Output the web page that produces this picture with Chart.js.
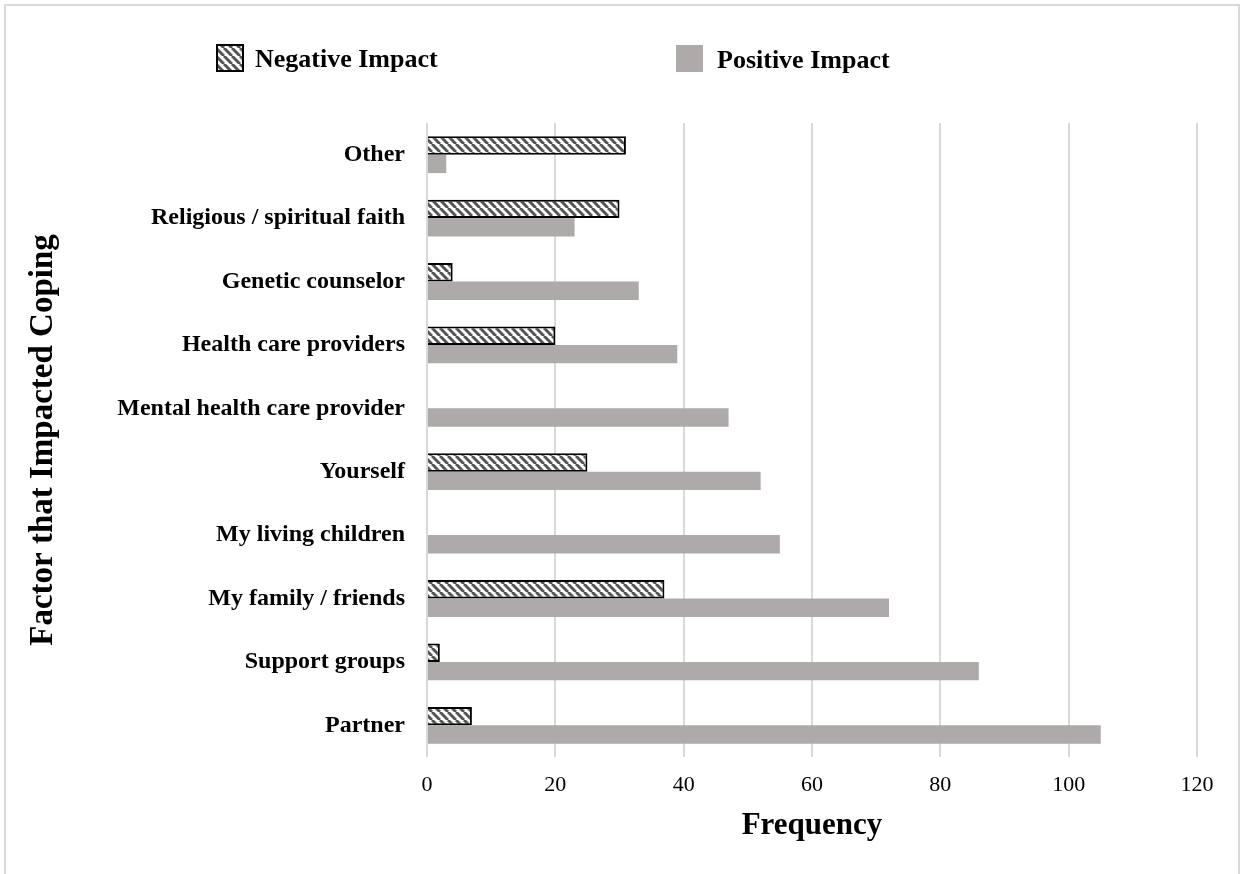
<!DOCTYPE html>
<html>
<head>
<meta charset="utf-8">
<script src="https://cdn.jsdelivr.net/npm/chart.js@4.4.1/dist/chart.umd.min.js"></script>
<style>
  html, body { margin: 0; padding: 0; background: #fff; }
  #wrap { position: relative; width: 1243px; height: 874px; overflow: hidden; }
  #frame { position: absolute; left: 4px; top: 4px; width: 1236px; height: 900px;
           border: 2px solid #d9d9d9; box-sizing: border-box; }
  #myChart { position: absolute; left: 0; top: 0; }
</style>
</head>
<body>
<div id="wrap">
  <div id="frame"></div>
  <canvas id="myChart" width="1243" height="874"></canvas>
</div>
<script>
const categories = ['Other', 'Religious / spiritual faith', 'Genetic counselor', 'Health care providers',
  'Mental health care provider', 'Yourself', 'My living children', 'My family / friends',
  'Support groups', 'Partner'];
const negativeValues = [31, 30, 4, 20, 0, 25, 0, 37, 2, 7];
const positiveValues = [3, 23, 33, 39, 47, 52, 55, 72, 86, 105];
const seriesNames = ['Negative Impact', 'Positive Impact'];
const xTicks = [0, 20, 40, 60, 80, 100, 120];

const serif = "'Liberation Serif', 'Times New Roman', serif";

// diagonal hatch like excel's wide downward diagonal
var makeHatch = function(){
  var c = document.createElement('canvas');
  c.width = 8; c.height = 8;
  var g = c.getContext('2d');
  g.fillStyle = '#fff';
  g.fillRect(0, 0, 8, 8);
  g.strokeStyle = '#555';
  g.lineWidth = 3;
  [-8, 0, 8].forEach(off => {
    g.beginPath();
    g.moveTo(off, 0);
    g.lineTo(off + 8, 8);
    g.stroke();
  });
  return g.createPattern(c, 'repeat');
};

var ctx = document.getElementById('myChart').getContext('2d');
var hatch = makeHatch();

var legendPlugin = {
  id: 'customLegend',
  afterDraw: function(chart){
    var c = chart.ctx;
    var ds = chart.data.datasets;
    c.save();
    // negative
    c.fillStyle = ds[0].backgroundColor;
    c.fillRect(216, 44, 28, 28);
    c.strokeStyle = '#000';
    c.lineWidth = 2;
    c.strokeRect(217, 45, 26, 26);
    // positive
    c.fillStyle = ds[1].backgroundColor;
    c.fillRect(676, 45, 27, 27);
    c.fillStyle = '#000';
    c.font = "bold 26px " + serif;
    c.textBaseline = 'alphabetic';
    c.textAlign = 'left';
    c.fillText(ds[0].label, 255, 67);
    c.fillText(ds[1].label, 717, 68);
    c.restore();
  }
};

var myChart = new Chart(ctx, {
  type: 'bar',
  data: {
    labels: categories,
    datasets: [{
      label: seriesNames[0],
      data: negativeValues,
      backgroundColor: hatch,
      borderColor: '#000',
      borderWidth: 2,
      categoryPercentage: 0.58,
      barPercentage: 1.0
    }, {
      label: seriesNames[1],
      data: positiveValues,
      backgroundColor: '#aeaaaa',
      borderWidth: 0,
      categoryPercentage: 0.58,
      barPercentage: 1.0
    }]
  },
  options: {
    indexAxis: 'y',
    responsive: false,
    animation: false,
    layout: { padding: { left: 10, top: 123, right: 46, bottom: 10 } },
    plugins: {
      legend: { display: false },
      tooltip: { enabled: false }
    },
    scales: {
      x: {
        min: 0, max: 120,
        afterBuildTicks: function(scale){
          scale.ticks = xTicks.map(v => ({ value: v }));
        },
        afterFit: function(scale){ scale.height = 107; },
        grid: { color: '#d9d9d9', lineWidth: 2, drawTicks: false },
        border: { display: false },
        ticks: { color: '#000', padding: 15, font: { family: serif, size: 22 } },
        title: {
          display: true, text: 'Frequency', color: '#000',
          font: { family: serif, size: 31, weight: 'bold' },
          padding: { top: 0, bottom: 19 }
        }
      },
      y: {
        afterFit: function(scale){ scale.width = 417; },
        grid: { display: false, drawTicks: false },
        border: { display: false },
        ticks: { color: '#000', padding: 22, font: { family: serif, size: 24, weight: 'bold' } },
        title: {
          display: true, text: 'Factor that Impacted Coping', color: '#000',
          font: { family: serif, size: 33, weight: 'bold' },
          padding: { top: 14, bottom: 0 }
        }
      }
    }
  },
  plugins: [legendPlugin]
});
</script>
</body>
</html>
